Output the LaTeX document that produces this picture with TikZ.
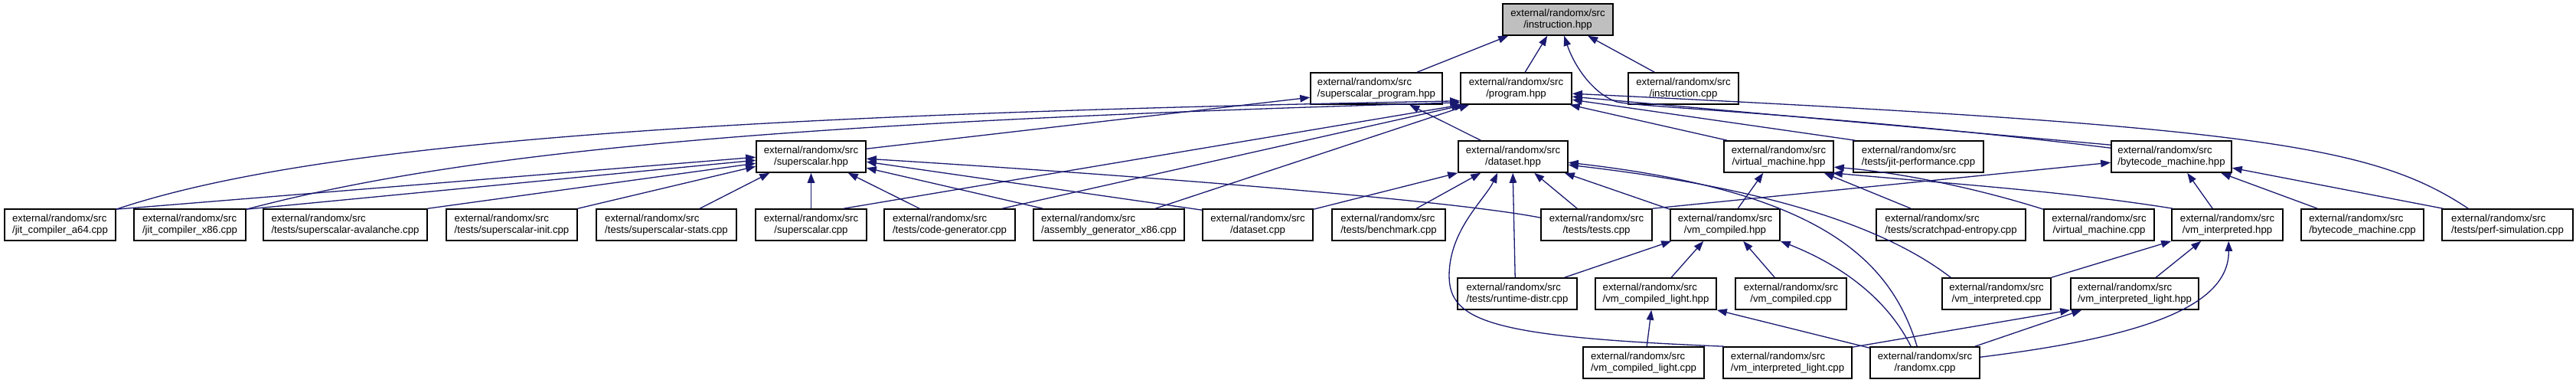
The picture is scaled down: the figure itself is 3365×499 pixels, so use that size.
\documentclass[tikz,border=0pt]{standalone}
\usepackage{fontspec}
\setmainfont{Liberation Sans}
\usetikzlibrary{arrows.meta,calc}
\definecolor{edgeblue}{HTML}{191970}
\definecolor{focusgray}{HTML}{BFBFBF}
\begin{document}
\begin{tikzpicture}[x=1pt,y=-1pt,
  nbox/.style={draw=black, line width=1.6pt, fill=white, minimum height=41pt, inner sep=0pt,
    font=\fontsize{13.2}{15.5}\selectfont},
  boxl/.style={nbox, align=left},
  boxc/.style={nbox, align=center},
  edge/.style={draw=edgeblue, line width=1.3pt, -{Triangle[length=13pt,width=9.5pt]}}]
\fill[white] (0,0) rectangle (3365,499);
\useasboundingbox (0,0) rectangle (3365,499);
% row 0
\node[boxc, minimum width=144pt, fill=focusgray] (ih) at (2035,25.5) {external/randomx/src\\/instruction.hpp};
% row 1
\node[boxl, minimum width=172pt] (sph) at (1798,115.5) {external/randomx/src\\/superscalar\_program.hpp};
\node[boxc, minimum width=145pt] (ph) at (1980.5,115.5) {external/randomx/src\\/program.hpp};
\node[boxc, minimum width=144pt] (ic) at (2199,115.5) {external/randomx/src\\/instruction.cpp};
% row 2
\node[boxc, minimum width=143pt] (sh) at (1059.5,204.5) {external/randomx/src\\/superscalar.hpp};
\node[boxc, minimum width=143pt] (dh) at (1976.5,204.5) {external/randomx/src\\/dataset.hpp};
\node[boxc, minimum width=143pt] (vmh) at (2323.5,204.5) {external/randomx/src\\/virtual\_machine.hpp};
\node[boxl, minimum width=170pt] (jp) at (2506,204.5) {external/randomx/src\\/tests/jit-performance.cpp};
\node[boxl, minimum width=157pt] (bh) at (2836.5,204.5) {external/randomx/src\\/bytecode\_machine.hpp};
% row 3
\node[boxl, minimum width=145pt] (a64) at (78.5,293.5) {external/randomx/src\\/jit\_compiler\_a64.cpp};
\node[boxl, minimum width=146pt] (x86) at (248,293.5) {external/randomx/src\\/jit\_compiler\_x86.cpp};
\node[boxl, minimum width=214pt] (sav) at (451,293.5) {external/randomx/src\\/tests/superscalar-avalanche.cpp};
\node[boxl, minimum width=171pt] (sin) at (668.5,293.5) {external/randomx/src\\/tests/superscalar-init.cpp};
\node[boxl, minimum width=183pt] (sst) at (870.5,293.5) {external/randomx/src\\/tests/superscalar-stats.cpp};
\node[boxc, minimum width=145pt] (sc) at (1059.5,293.5) {external/randomx/src\\/superscalar.cpp};
\node[boxl, minimum width=171pt] (cg) at (1240.5,293.5) {external/randomx/src\\/tests/code-generator.cpp};
\node[boxl, minimum width=197pt] (ag) at (1448.5,293.5) {external/randomx/src\\/assembly\_generator\_x86.cpp};
\node[boxc, minimum width=144pt] (dc) at (1643,293.5) {external/randomx/src\\/dataset.cpp};
\node[boxl, minimum width=148pt] (bm) at (1814,293.5) {external/randomx/src\\/tests/benchmark.cpp};
\node[boxc, minimum width=145pt] (tt) at (2085.5,293.5) {external/randomx/src\\/tests/tests.cpp};
\node[boxc, minimum width=143pt] (vch) at (2253.5,293.5) {external/randomx/src\\/vm\_compiled.hpp};
\node[boxl, minimum width=195pt] (se) at (2548.5,293.5) {external/randomx/src\\/tests/scratchpad-entropy.cpp};
\node[boxc, minimum width=144pt] (vmc) at (2742,293.5) {external/randomx/src\\/virtual\_machine.cpp};
\node[boxc, minimum width=145pt] (vih) at (2909.5,293.5) {external/randomx/src\\/vm\_interpreted.hpp};
\node[boxl, minimum width=160pt] (bc) at (3086,293.5) {external/randomx/src\\/bytecode\_machine.cpp};
\node[boxl, minimum width=171pt] (ps) at (3275.5,293.5) {external/randomx/src\\/tests/perf-simulation.cpp};
% row 4
\node[boxl, minimum width=156pt] (rd) at (1982,383.5) {external/randomx/src\\/tests/runtime-distr.cpp};
\node[boxl, minimum width=158pt] (vclh) at (2163,383.5) {external/randomx/src\\/vm\_compiled\_light.hpp};
\node[boxc, minimum width=145pt] (vcc) at (2339.5,383.5) {external/randomx/src\\/vm\_compiled.cpp};
\node[boxc, minimum width=142pt] (vic) at (2608,383.5) {external/randomx/src\\/vm\_interpreted.cpp};
\node[boxl, minimum width=167pt] (vilh) at (2788.5,383.5) {external/randomx/src\\/vm\_interpreted\_light.hpp};
% row 5
\node[boxl, minimum width=158pt] (vclc) at (2147,473.5) {external/randomx/src\\/vm\_compiled\_light.cpp};
\node[boxl, minimum width=168pt] (vilc) at (2335,473.5) {external/randomx/src\\/vm\_interpreted\_light.cpp};
\node[boxc, minimum width=143pt] (rx) at (2514.5,473.5) {external/randomx/src\\/randomx.cpp};

% into instruction.hpp
\draw[edge] ($(sph.north west)+(140,0)$) -- ($(ih.south west)+(8,0)$);
\draw[edge] ($(ph.north west)+(85,0)$) -- ($(ih.south west)+(59,0)$);
\draw[edge] ($(ic.north west)+(35,0)$) -- ($(ih.south west)+(112,0)$);
\draw[edge] ($(bh.north west)+(0,10)$) .. controls (2400,150) and (2140,140) .. (2112,133)
  .. controls (2080,122) and (2056,85) .. ($(ih.south west)+(81,0)$);
% into program.hpp from right
\draw[edge] ($(vmh.north west)+(5,0)$) -- ($(ph.south east)+(-3,0)$);
\draw[edge] ($(jp.north west)+(3,0)$) -- ($(ph.north east)+(0,36)$);
\draw[edge] ($(bh.north west)+(0,6)$) -- ($(ph.north east)+(0,32)$);
\draw[edge] ($(ps.north west)+(35,0)$) .. controls (3100,190) and (2950,165) .. ($(ph.north east)+(0,28)$);
% into program.hpp from left
\draw[edge] ($(a64.north east)+(0,1)$) .. controls (400,190) and (900,150) .. ($(ph.south west)+(0,-5)$);
\draw[edge] ($(x86.north east)+(0,1)$) .. controls (600,200) and (1000,160) .. ($(ph.south west)+(0,-3)$);
\draw[edge] ($(sc.north west)+(116,0)$) -- ($(ph.south west)+(2,0)$);
\draw[edge] ($(cg.north west)+(155,0)$) -- ($(ph.south west)+(6,0)$);
\draw[edge] ($(ag.north west)+(160,0)$) -- ($(ph.south west)+(12,0)$);
% into superscalar_program.hpp
\draw[edge] ($(sh.north east)+(0,11)$) -- ($(sph.north west)+(0,33)$);
\draw[edge] ($(dh.north west)+(30,0)$) -- ($(sph.south west)+(130,0)$);
% into superscalar.hpp
\draw[edge] ($(a64.north east)+(0,1)$) -- ($(sh.north west)+(0,22)$);
\draw[edge] ($(x86.north east)+(0,1)$) -- ($(sh.north west)+(0,26)$);
\draw[edge] (sav.north east) -- ($(sh.north west)+(0,30)$);
\draw[edge] (sin.north east) -- ($(sh.north west)+(0,34)$);
\draw[edge] ($(sst.north west)+(136,0)$) -- ($(sh.south west)+(18,0)$);
\draw[edge] (sc.north) -- (sh.south);
\draw[edge] ($(cg.north west)+(47,0)$) -- ($(sh.south east)+(-24,0)$);
\draw[edge] ($(ag.north west)+(13,0)$) -- ($(sh.north east)+(0,36)$);
\draw[edge] ($(dc.north west)+(0,2)$) -- ($(sh.north east)+(0,28)$);
\draw[edge] ($(tt.north west)+(0,12)$) .. controls (1900,262) and (1500,230) .. ($(sh.north east)+(0,24)$);
% into dataset.hpp
\draw[edge] ($(dc.north east)+(0,1)$) -- (dh.south west);
\draw[edge] ($(bm.north west)+(111,0)$) -- ($(dh.south west)+(30,0)$);
\draw[edge] ($(vilc.north west)+(2,0)$) .. controls (1950,440) and (1893,420) .. (1893,360)
  .. controls (1893,300) and (1940,260) .. ($(dh.south west)+(52,0)$);
\draw[edge] ($(rd.north west)+(76,0)$) -- ($(dh.south west)+(72,0)$);
\draw[edge] ($(tt.north west)+(48,0)$) -- ($(dh.south west)+(100,0)$);
\draw[edge] ($(vch.north west)+(0,1)$) -- ($(dh.south east)+(-5,0)$);
\draw[edge] ($(rx.north west)+(62,0)$) .. controls (2470,340) and (2380,250) .. ($(dh.north east)+(0,29)$);
\draw[edge] ($(vic.north west)+(12,0)$) .. controls (2480,310) and (2350,250) .. ($(dh.north east)+(0,32)$);
% into virtual_machine.hpp
\draw[edge] ($(vch.north west)+(89,0)$) -- ($(vmh.south west)+(52,0)$);
\draw[edge] ($(se.north west)+(46,0)$) -- ($(vmh.south east)+(-13,0)$);
\draw[edge] ($(vmc.north west)+(0,1)$) .. controls (2580,245) and (2480,225) .. ($(vmh.north east)+(0,35)$);
\draw[edge] ($(vih.north west)+(2,0)$) .. controls (2700,250) and (2550,240) .. ($(vmh.south east)+(-2,0)$);
% into bytecode_machine.hpp
\draw[edge] ($(vih.north west)+(54,0)$) -- ($(bh.south west)+(100,0)$);
\draw[edge] ($(bc.north west)+(22,0)$) -- ($(bh.south west)+(144,0)$);
\draw[edge] ($(ps.north west)+(2,0)$) -- ($(bh.north east)+(0,36)$);
\draw[edge] (tt.north east) -- ($(bh.north west)+(0,29)$);
% into vm_compiled.hpp
\draw[edge] ($(rd.north east)+(-17,0)$) -- ($(vch.south west)+(2,0)$);
\draw[edge] ($(vclh.north west)+(100,0)$) -- ($(vch.south west)+(44,0)$);
\draw[edge] ($(vcc.north west)+(52,0)$) -- ($(vch.south west)+(96,0)$);
\draw[edge] ($(rx.north west)+(54,0)$) .. controls (2460,380) and (2390,340) .. (vch.south east);
% into vm_compiled_light.hpp
\draw[edge] ($(vclc.north west)+(84,0)$) -- ($(vclh.south west)+(74,0)$);
\draw[edge] ($(rx.north west)+(0,2)$) -- (vclh.south east);
% into vm_interpreted_light.hpp
\draw[edge] ($(vilc.north east)+(0,1)$) -- (vilh.south west);
\draw[edge] ($(rx.north east)+(-7,0)$) -- ($(vilh.south west)+(15,0)$);
% into vm_interpreted.hpp
\draw[edge] (vic.north east) -- (vih.south west);
\draw[edge] ($(vilh.north west)+(112,0)$) -- ($(vih.south west)+(39,0)$);
\draw[edge] ($(rx.north east)+(0,14)$) .. controls (2800,440) and (2912,400) .. ($(vih.south west)+(75,0)$);
\end{tikzpicture}
\end{document}
